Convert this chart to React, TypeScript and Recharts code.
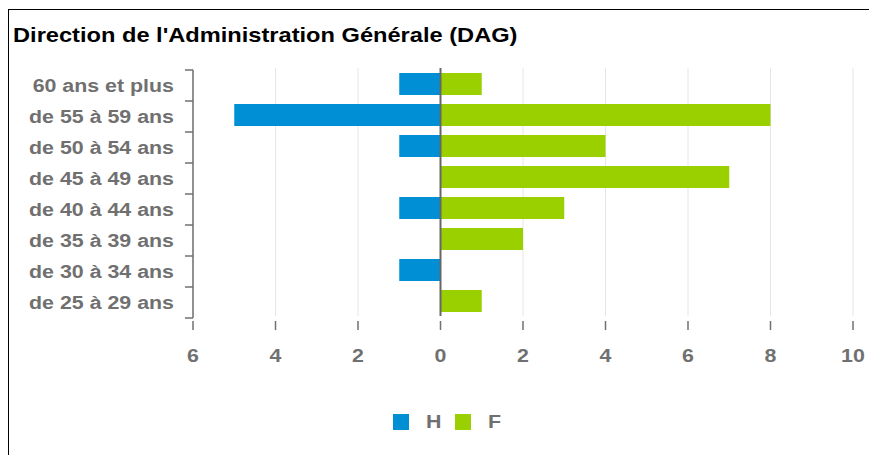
import React from "react";
import { BarChart, Bar, XAxis, YAxis, CartesianGrid, ReferenceLine, Legend } from "recharts";

const categories = [
  "60 ans et plus",
  "de 55 à 59 ans",
  "de 50 à 54 ans",
  "de 45 à 49 ans",
  "de 40 à 44 ans",
  "de 35 à 39 ans",
  "de 30 à 34 ans",
  "de 25 à 29 ans",
];
const hommes = [1, 5, 1, 0, 1, 0, 1, 0];
const femmes = [1, 8, 4, 7, 3, 2, 0, 1];
const xTicks = [-6, -4, -2, 0, 2, 4, 6, 8, 10];
const seriesNames = ["H", "F"];
const seriesColors = ["#008FD5", "#9AD000"];
const title = "Direction de l'Administration Générale (DAG)";

const data = categories.map((c, i) => ({ cat: c, H: -hommes[i], F: femmes[i] }));

const W = 869;
const H = 455;
const PLOT_TOP = 68;
const PLOT_BOTTOM = 316;
const PLOT_LEFT = 193;
const PLOT_RIGHT = 853;
const BAND = (PLOT_BOTTOM - PLOT_TOP) / categories.length;
const TICK_SHIFT = 2;
const GRAY = "#707070";
const FONT = "'Liberation Sans', Arial, sans-serif";
const SX = 1.125;

const YTick = (props: any) => {
  const { x, y, payload, index } = props;
  const last = index === categories.length - 1;
  const top = y - BAND / 2 + TICK_SHIFT;
  const bot = y + BAND / 2 + TICK_SHIFT;
  return (
    <g>
      <line x1={x} x2={x} y1={top} y2={bot} stroke={GRAY} strokeWidth={1.5} />
      <line x1={x - 8} x2={x} y1={top} y2={top} stroke={GRAY} strokeWidth={1.5} />
      {last && <line x1={x - 8} x2={x} y1={bot} y2={bot} stroke={GRAY} strokeWidth={1.5} />}
      <g transform={`translate(${x - 19},${y + 2}) scale(${SX},1)`}>
        <text x={0} y={0} textAnchor="end" dominantBaseline="central" fill={GRAY} fontSize={19} fontWeight="bold" fontFamily={FONT}>
          {payload.value}
        </text>
      </g>
    </g>
  );
};

const XTick = (props: any) => {
  const { x, y, payload } = props;
  return (
    <g>
      <line x1={x} x2={x} y1={y + 5} y2={y + 14} stroke={GRAY} strokeWidth={1.5} />
      <g transform={`translate(${x},${y + 39}) scale(${SX},1)`}>
        <text x={0} y={0} textAnchor="middle" dominantBaseline="central" fill={GRAY} fontSize={19} fontWeight="bold" fontFamily={FONT}>
          {Math.abs(payload.value)}
        </text>
      </g>
    </g>
  );
};

const LegendContent = (props: any) => {
  const items = [...(props.payload || [])].sort(
    (a: any, b: any) => seriesNames.indexOf(a.value) - seriesNames.indexOf(b.value)
  );
  return (
    <div style={{ display: "flex", justifyContent: "center", alignItems: "center", width: W, paddingLeft: 24, boxSizing: "border-box" }}>
      {items.map((it: any, i: number) => (
        <div key={i} style={{ display: "flex", alignItems: "center", marginRight: i === items.length - 1 ? 0 : 15 }}>
          <div style={{ width: 16, height: 16, background: it.color, marginRight: 17 }} />
          <span style={{ color: GRAY, fontSize: 19, fontWeight: "bold", fontFamily: FONT, display: "inline-block", transform: `scaleX(${SX})`, transformOrigin: "left center" }}>{it.value}</span>
        </div>
      ))}
    </div>
  );
};

export default function App() {
  return (
    <div style={{ position: "absolute", left: 0, top: 0, width: W, height: H, overflow: "hidden", background: "#fff" }}>
      <div style={{ position: "absolute", left: 8, top: 9, width: W, height: H, borderTop: "1px solid #000", borderLeft: "1px solid #000" }} />
      <div style={{ position: "absolute", left: 13, top: 23, fontFamily: FONT, fontWeight: "bold", fontSize: 21, color: "#000", whiteSpace: "nowrap", transform: `scaleX(${SX})`, transformOrigin: "left center" }}>
        {title}
      </div>
      <div style={{ position: "absolute", left: 0, top: 0 }}>
        <BarChart
          width={W}
          height={H}
          data={data}
          layout="vertical"
          stackOffset="sign"
          barSize={22}
          margin={{ top: PLOT_TOP, right: W - PLOT_RIGHT, bottom: H - PLOT_BOTTOM - 40, left: PLOT_LEFT - 185 }}
        >
          <CartesianGrid horizontal={false} vertical={true} stroke="#e6e6e6" strokeWidth={1} />
          <XAxis
            type="number"
            domain={[-6, 10]}
            ticks={xTicks}
            interval={0}
            height={40}
            axisLine={false}
            tickLine={false}
            tickSize={0}
            tickMargin={0}
            tick={<XTick />}
          />
          <YAxis
            type="category"
            dataKey="cat"
            width={185}
            interval={0}
            axisLine={false}
            tickLine={false}
            tickSize={0}
            tickMargin={0}
            tick={<YTick />}
          />
          <Bar dataKey="H" name={seriesNames[0]} stackId="a" fill={seriesColors[0]} isAnimationActive={false} />
          <Bar dataKey="F" name={seriesNames[1]} stackId="a" fill={seriesColors[1]} isAnimationActive={false} />
          <ReferenceLine x={0} stroke="#666666" strokeWidth={2} />
          <Legend
            layout="horizontal"
            verticalAlign="middle"
            align="center"
            content={<LegendContent />}
            wrapperStyle={{ top: 411, left: 0, width: W }}
          />
        </BarChart>
      </div>
    </div>
  );
}
